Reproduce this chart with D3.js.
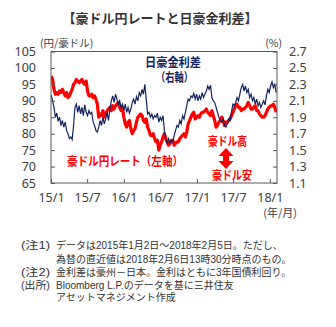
<!DOCTYPE html>
<html><head><meta charset="utf-8">
<script src="https://cdn.jsdelivr.net/npm/d3@7"></script>
<style>
body{margin:0;background:#fff;}
svg{display:block;font-family:"Noto Sans CJK JP","Noto Sans",sans-serif;}
</style></head>
<body><svg id="c" width="336" height="327"></svg>
<script>
// weekly observations starting 2015-01-02
const startDate = new Date(2015, 0, 2);
const audjpy = [
 97.5,96.5,93.5,92.0,92.5, 92.0,93.0,92.5,93.5, 92.5,91.5,92.5,91.0, 91.5,92.5,93.5,95.0,
 95.5,96.5,96.0,95.5,96.0, 96.5,95.5,95.0,96.0, 93.0,91.5,91.5,92.0,91.0, 91.5,90.5,89.0,85.0,
 86.0,85.5,87.0,85.0, 86.0,87.0,87.5,88.0,87.0, 88.5,87.5,88.5,89.0, 89.5,88.0,87.0,88.0,
 85.0,83.0,82.0,83.5,84.0, 81.5,80.0,81.0,81.5, 83.5,85.0,85.5,86.0, 85.5,84.0,83.5,84.5,82.0,
 81.0,79.5,79.5,80.0, 78.5,77.5,78.0,75.0, 76.5,77.5,79.0,80.0,78.5, 77.5,76.5,77.0,78.0,
 78.0,76.5,77.0,77.5, 77.5,78.5,79.0,79.5,80.0, 79.0,80.5,83.0,84.0, 85.0,86.0,86.5,84.5,
 85.0,85.5,85.0,86.0,86.5, 86.5,87.0,87.5,86.5, 86.0,85.5,87.0,85.5, 84.0,82.0,82.5,83.5,84.0,
 85.0,84.0,82.5,83.5, 83.5,84.0,84.5,85.5, 86.5,87.5,88.5,89.0,88.0, 88.0,87.0,87.5,87.5,
 88.0,88.5,89.5,88.5,87.5, 87.5,88.0,88.5,87.0, 87.0,86.0,85.5,85.0, 85.0,85.5,86.5,87.5,
 88.0,88.5,88.5,89.0,88.0, 86.5
];
const spread = [
 2.17,2.10,2.02,1.90,1.95, 1.85,1.90,1.80,1.86, 1.78,1.84,1.74,1.70, 1.64,1.66,1.63,1.80,
 2.02,2.06,1.96,2.04,1.94, 2.02,1.92,2.05,1.96, 1.92,1.98,1.94,1.96,1.84, 1.80,1.74,1.72,1.78,
 1.86,1.80,1.90,1.82, 1.88,1.96,1.86,2.00,2.10, 2.16,2.08,2.18,2.12, 2.06,2.10,2.02,2.06,
 1.98,2.06,1.96,2.02,1.95, 2.00,2.08,2.12,2.06, 2.15,2.10,2.20,2.16, 2.24,2.18,2.30,2.12,1.94,
 1.96,1.90,1.94,1.88, 1.92,1.90,1.95,1.84, 1.90,1.86,1.92,1.74,1.62, 1.58,1.64,1.58,1.62,
 1.60,1.68,1.74,1.80, 1.78,1.86,1.82,1.92,1.88, 1.96,2.04,2.12,2.10, 2.16,2.14,2.19,2.12,
 2.18,2.10,2.16,2.12,2.20, 2.14,2.18,2.22,2.28, 2.24,2.29,2.14,2.10, 2.08,2.02,1.96,1.90,1.86,
 1.84,1.88,1.80,1.78, 1.82,1.88,1.86,1.96, 2.06,2.04,2.08,2.14,2.10, 2.18,2.26,2.30,2.22,
 2.28,2.20,2.24,2.14,2.18, 2.10,2.14,2.06,2.12, 2.04,2.08,2.02,2.06, 2.10,2.05,2.16,2.24,
 2.20,2.28,2.33,2.26,2.30, 2.20
];
const leftTicks = [65,70,75,80,85,90,95,100,105];
const rightTicks = [1.1,1.3,1.5,1.7,1.9,2.1,2.3,2.5,2.7];
const xTickDates = ["2015-01","2015-07","2016-01","2016-07","2017-01","2017-07","2018-01"];
const xTickLabels = ["15/1","15/7","16/1","16/7","17/1","17/7","18/1"];
const notes = [
 ["(注1)","データは2015年1月2日～2018年2月5日。ただし、"],
 ["","為替の直近値は2018年2月6日13時30分時点のもの。"],
 ["(注2)","金利差は豪州－日本。金利はともに3年国債利回り。"],
 ["(出所)","Bloomberg L.P.のデータを基に三井住友"],
 ["","アセットマネジメント作成"]
];

const svg = d3.select("#c");
const L = 51, R = 277, T = 51.5, B = 183;
const parse = d3.timeParse("%Y-%m");
const x = d3.scaleTime().domain([new Date(2015,0,1), new Date(2018,1,6)]).range([L, R]);
const yL = d3.scaleLinear().domain([65,105]).range([B, T]);
const yR = d3.scaleLinear().domain([1.1,2.7]).range([B, T]);
const dates = audjpy.map((_, i) => d3.timeDay.offset(startDate, 7*i));

const axisColor = "#595959", txt = "#404040";

// title
svg.append("text").attr("x", 160).attr("y", 23).attr("text-anchor","middle")
  .attr("font-size", 13).attr("font-weight","bold").attr("fill","#333")
  .text("【豪ドル円レートと日豪金利差】");
svg.append("text").attr("x", 40).attr("y", 47).attr("font-size", 10.5).attr("fill", txt).text("(円/豪ドル)");
svg.append("text").attr("x", 282).attr("y", 47).attr("text-anchor","end").attr("font-size", 10.5).attr("fill", txt).text("(%)");

// clip
svg.append("clipPath").attr("id","clip").append("rect").attr("x",L).attr("y",T).attr("width",R-L).attr("height",B-T);

const g = svg.append("g").attr("clip-path","url(#clip)");
g.append("path").datum(audjpy).attr("fill","none").attr("stroke","#ff0000").attr("stroke-width",3.2)
  .attr("stroke-linejoin","round")
  .attr("d", d3.line().x((d,i)=>x(dates[i])).y(d=>yL(d)));
g.append("path").datum(spread).attr("fill","none").attr("stroke","#13235e").attr("stroke-width",1.2)
  .attr("d", d3.line().x((d,i)=>x(dates[i])).y(d=>yR(d)));

// frame
svg.append("rect").attr("x",L).attr("y",T).attr("width",R-L).attr("height",B-T)
  .attr("fill","none").attr("stroke",axisColor).attr("stroke-width",1);

function styleAxis(sel){
  sel.select(".domain").remove();
  sel.selectAll(".tick line").attr("stroke",axisColor);
  sel.selectAll(".tick text").attr("fill",txt).attr("font-size",12.5)
    .attr("font-family","'Noto Sans','DejaVu Sans',sans-serif");
}
svg.append("g").attr("transform",`translate(${L},0)`)
  .call(d3.axisLeft(yL).tickValues(leftTicks).tickSize(-4).tickPadding(15)).call(styleAxis);
svg.append("g").attr("transform",`translate(${R},0)`)
  .call(d3.axisRight(yR).tickValues(rightTicks).tickSize(-4).tickPadding(12).tickFormat(d3.format(".1f"))).call(styleAxis);
svg.append("g").attr("transform",`translate(0,${B})`)
  .call(d3.axisBottom(x).tickValues(xTickDates.map(parse)).tickSize(-4).tickPadding(10)
    .tickFormat((d,i)=>xTickLabels[i])).call(styleAxis);

svg.append("text").attr("x",297).attr("y",217).attr("text-anchor","end").attr("font-size",11).attr("fill",txt).text("(年/月)");

// annotations
function ann(t, xx, yy, w, col){
  svg.append("text").attr("x",xx).attr("y",yy).attr("font-size",12)
    .attr("font-family","'Liberation Sans','Noto Sans CJK JP',sans-serif")
    .attr("font-weight","bold").attr("fill",col)
    .attr("textLength",w).attr("lengthAdjust","spacingAndGlyphs").text(t);
}
ann("日豪金利差",145,67,56,"#13235e");
ann("（右軸）",156,82,37,"#13235e");
ann("豪ドル円レート（左軸）",67,166,116,"#ff0000");
ann("豪ドル高",208,146,39,"#ff0000");
ann("豪ドル安",212,180,40,"#ff0000");
// double arrow
const ax = 226, a0 = 148, a1 = 169;
svg.append("path").attr("fill","#ff0000")
  .attr("d",`M${ax},${a0} L${ax+7.5},${a0+8} L${ax+3},${a0+8} L${ax+3},${a1-8} L${ax+7.5},${a1-8} L${ax},${a1} L${ax-7.5},${a1-8} L${ax-3},${a1-8} L${ax-3},${a0+8} L${ax-7.5},${a0+8} Z`);

// notes
const ng = svg.append("g").attr("font-size",10).attr("fill","#333")
  .attr("font-family","'Liberation Sans','Noto Sans CJK JP',sans-serif");
const noteY = [249, 263, 276, 289, 301];
notes.forEach((n,i)=>{
  if(n[0]) ng.append("text").attr("x",21).attr("y",noteY[i])
    .attr("textLength",29).attr("lengthAdjust","spacingAndGlyphs").text(n[0]);
  ng.append("text").attr("x",56).attr("y",noteY[i]).text(n[1]);
});
</script></body></html>
